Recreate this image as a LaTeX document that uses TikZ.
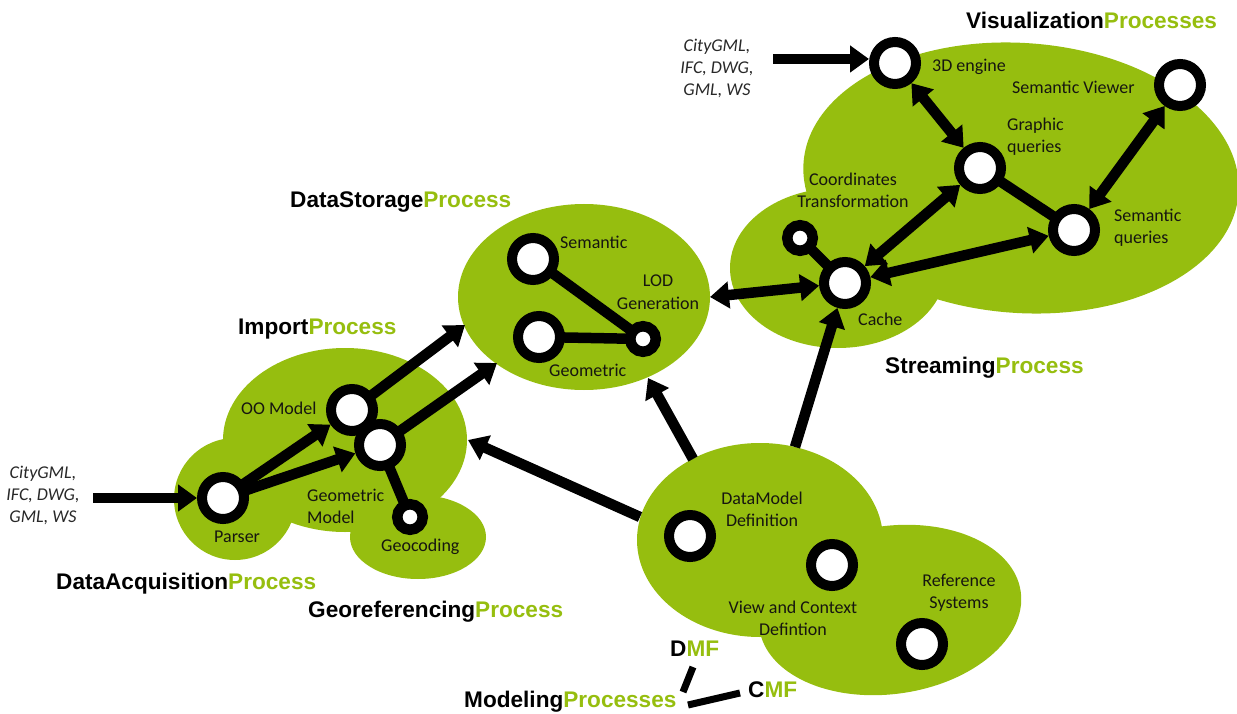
\documentclass[tikz,border=0pt]{standalone}
\usepackage{fontspec}
\setmainfont{Carlito}
\newfontfamily\ttlfont{Liberation Sans}
\usetikzlibrary{arrows.meta}
\definecolor{pgreen}{RGB}{150,190,15}
\definecolor{lblk}{RGB}{22,22,16}
\definecolor{igray}{RGB}{40,40,40}
\pgfdeclarelayer{bg}
\pgfdeclarelayer{conn}
\pgfsetlayers{bg,conn,main}
\tikzset{
  ring/.style={circle, draw=black, fill=white, line width=10pt, minimum size=42pt, inner sep=0pt, outer sep=5pt},
  sring/.style={circle, draw=black, fill=white, line width=10.5pt, minimum size=25.5pt, inner sep=0pt, outer sep=5.25pt},
  conn/.style={line width=10.5pt, draw=black},
  tip/.tip={Triangle[length=19pt,width=26pt]},
  arr/.style={conn, -tip},
  darr/.style={conn, tip-tip},
  lbl/.style={font=\fontsize{18}{22}\selectfont, text=lblk, inner sep=0pt, anchor=base west},
  clbl/.style={lbl, anchor=base},
  ilbl/.style={font=\fontsize{18}{22}\selectfont\itshape, text=igray, inner sep=0pt, anchor=base},
  ttl/.style={font=\ttlfont\bfseries\fontsize{22.6}{26}\selectfont, inner sep=0pt, anchor=base west},
  blob/.style={fill=pgreen},
  thinline/.style={line width=7pt, draw=black},
}
\begin{document}
\begin{tikzpicture}[x=1pt,y=-1pt]
\useasboundingbox (0,0) rectangle (1237,714);
% ---------- blobs ----------
\begin{pgfonlayer}{bg}
  \fill[blob] (235,499) circle[radius=61];
  \fill[blob] (345,440) ellipse[x radius=122, y radius=92];
  \fill[blob] (418,537) ellipse[x radius=68, y radius=42];
  \fill[blob] (584,297) ellipse[x radius=126, y radius=93];
  \fill[blob, rotate around={-4:(1021,178)}] (1021,178) ellipse[x radius=218, y radius=135];
  \fill[blob] (838,268) ellipse[x radius=108, y radius=80];
  \fill[blob] (760,540) ellipse[x radius=123, y radius=97];
  \fill[blob, rotate around={8:(890,610)}] (890,610) ellipse[x radius=132, y radius=84];
\end{pgfonlayer}
% ---------- ring nodes ----------
\node[ring] (parser) at (223,498) {};
\node[ring] (oo) at (352,410) {};
\node[ring] (gm) at (380,445) {};
\node[sring] (geoc) at (410,517) {};
\node[ring] (sem) at (533,259) {};
\node[ring] (geom) at (539,337) {};
\node[sring] (lod) at (643,339) {};
\node[ring] (e3d) at (895,63) {};
\node[ring] (sv) at (1180,85) {};
\node[ring] (gq) at (980,168) {};
\node[ring] (sq) at (1074,230) {};
\node[sring] (ct) at (800,238) {};
\node[ring] (cache) at (845,283) {};
\node[ring] (dm) at (690,536) {};
\node[ring] (vc) at (832,565) {};
\node[ring] (rs) at (922,644) {};
% ---------- free ends ----------
\coordinate (in1) at (93,498);
\coordinate (in2) at (773,59);
\coordinate (stA) at (465,325);
\coordinate (stB) at (497,363);
\coordinate (impR) at (468,440);
\coordinate (modL) at (640,517);
\coordinate (stBot) at (648,378);
\coordinate (modT) at (693,459);
\coordinate (modC) at (795,447);
\coordinate (stR) at (710,297);
\coordinate (d1) at (693,667);
\coordinate (d2) at (683,692);
\coordinate (c1) at (688,705);
\coordinate (c2) at (740,693);
% ---------- connectors ----------
\begin{pgfonlayer}{conn}
  \draw[arr] (in1) -- (parser);
  \draw[arr, shorten <=-6pt] (parser) -- (oo);
  \draw[arr, shorten <=-6pt] (parser) -- (gm);
  \draw[arr, shorten <=-6pt] (oo) -- (stA);
  \draw[arr, shorten <=-6pt] (gm) -- (stB);
  \draw[conn, shorten <=-6pt, shorten >=-6pt] (gm) -- (geoc);
  \draw[conn, shorten <=-6pt, shorten >=-6pt] (sem) -- (lod);
  \draw[conn, shorten <=-6pt, shorten >=-6pt] (geom) -- (lod);
  \draw[arr] (modL) -- (impR);
  \draw[arr] (modT) -- (stBot);
  \draw[arr] (modC) -- (cache);
  \draw[darr] (stR) -- (cache);
  \draw[darr] (cache) -- (gq);
  \draw[darr] (cache) -- (sq);
  \draw[darr] (e3d) -- (gq);
  \draw[darr] (sv) -- (sq);
  \draw[conn, shorten <=-6pt, shorten >=-6pt] (gq) -- (sq);
  \draw[conn, shorten <=-6pt, shorten >=-6pt] (ct) -- (cache);
  \draw[arr] (in2) -- (in2 -| e3d.west);
  \draw[thinline] (d1) -- (d2);
  \draw[thinline] (c1) -- (c2);
\end{pgfonlayer}
% ---------- titles ----------
\node[ttl] (tImp) at (238,334) {Import\textcolor{pgreen}{Process}};
\node[ttl] (tAcq) at (56,589) {DataAcquisition\textcolor{pgreen}{Process}};
\node[ttl] (tGeo) at (308,617) {Georeferencing\textcolor{pgreen}{Process}};
\node[ttl] (tSto) at (290,208) {DataStorage\textcolor{pgreen}{Process}};
\node[ttl] (tStr) at (885,373) {Streaming\textcolor{pgreen}{Process}};
\node[ttl] (tVis) at (966,29) {Visualization\textcolor{pgreen}{Processes}};
\node[ttl] (tMod) at (464,707) {Modeling\textcolor{pgreen}{Processes}};
\node[ttl] (tDMF) at (670,656) {D\textcolor{pgreen}{MF}};
\node[ttl] (tCMF) at (748,697) {C\textcolor{pgreen}{MF}};
% ---------- labels ----------
\node[lbl] (lOO) at (241,414) {OO Model};
\node[lbl] (lPar) at (214,542) {Parser};
\node[lbl] (lGM) at (307,501) {\begin{tabular}[t]{@{}l@{}}Geometric\\Model\end{tabular}};
\node[lbl] (lGeoc) at (381,551) {Geocoding};
\node[lbl] (lSem) at (560,248) {Semantic};
\node[clbl] (lLOD) at (658,287) {\begin{tabular}[t]{@{}c@{}}LOD\\Generation\end{tabular}};
\node[lbl] (lGeom) at (549,376) {Geometric};
\node[lbl] (l3d) at (932,72) {3D engine};
\node[lbl] (lSV) at (1012,94) {Semantic Viewer};
\node[lbl] (lGQ) at (1007,131) {\begin{tabular}[t]{@{}l@{}}Graphic\\queries\end{tabular}};
\node[lbl] (lSQ) at (1114,222) {\begin{tabular}[t]{@{}l@{}}Semantic\\queries\end{tabular}};
\node[clbl] (lCT) at (853,186) {\begin{tabular}[t]{@{}c@{}}Coordinates\\Transformation\end{tabular}};
\node[lbl] (lCache) at (858,325) {Cache};
\node[clbl] (lDM) at (762,504) {\begin{tabular}[t]{@{}c@{}}DataModel\\Definition\end{tabular}};
\node[clbl] (lVC) at (793,613) {\begin{tabular}[t]{@{}c@{}}View and Context\\Defintion\end{tabular}};
\node[clbl] (lRS) at (959,586) {\begin{tabular}[t]{@{}c@{}}Reference\\Systems\end{tabular}};
\node[ilbl] (lIn1) at (43,478) {\begin{tabular}[t]{@{}c@{}}CityGML,\\IFC, DWG,\\GML, WS\end{tabular}};
\node[ilbl] (lIn2) at (717,52) {\begin{tabular}[t]{@{}c@{}}CityGML,\\IFC, DWG,\\GML, WS\end{tabular}};
\end{tikzpicture}
\end{document}
